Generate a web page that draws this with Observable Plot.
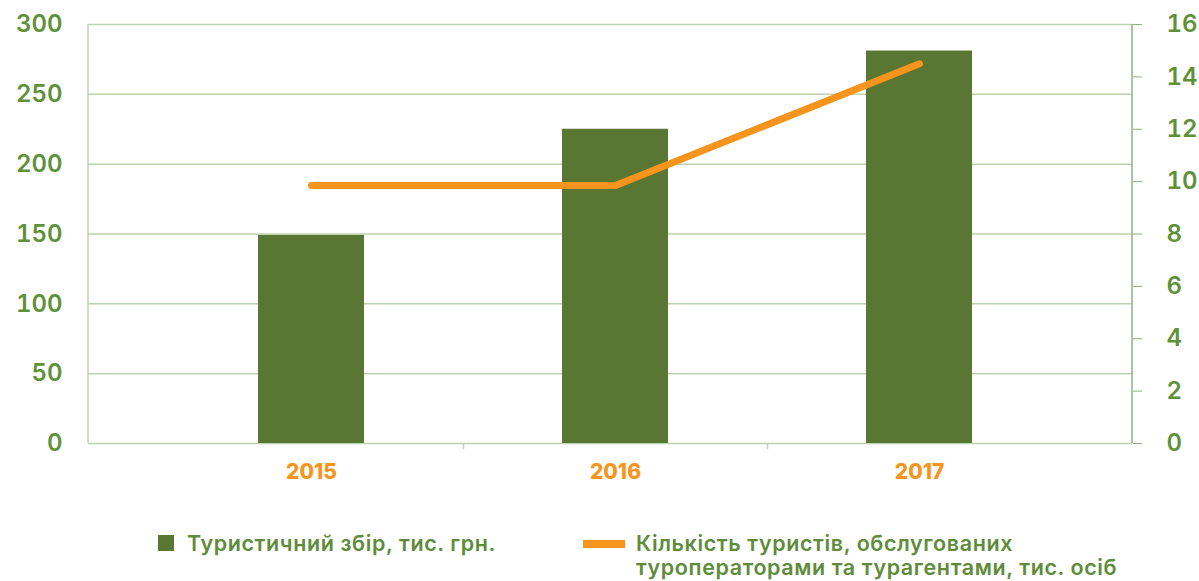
<!DOCTYPE html>
<html>
<head>
<meta charset="utf-8">
<script src="https://cdn.jsdelivr.net/npm/d3@7"></script>
<script src="https://cdn.jsdelivr.net/npm/@observablehq/plot@0.6"></script>
<style>
  html, body { margin: 0; padding: 0; background: #ffffff; }
  #wrap { position: relative; width: 1199px; height: 581px; overflow: hidden; font-family: Inter, sans-serif; }
  #chart svg { display: block; }
  .leg { position: absolute; color: #5e8c3a; font-weight: 600; font-size: 21.5px; line-height: 24px; white-space: nowrap; letter-spacing: 0.6px; }
  .sw { position: absolute; }
</style>
</head>
<body>
<div id="wrap">
  <div id="chart"></div>
  <div class="sw" style="left:158px; top:535px; width:16px; height:16px; background:#5a7633;"></div>
  <div class="leg" id="l1" style="left:187px; top:531px;">Туристичний збір, тис. грн.</div>
  <div class="sw" style="left:583px; top:540px; width:42px; height:8px; background:#f7941d;"></div>
  <div class="leg" id="l2" style="left:636px; top:531px;">Кількість туристів, обслугованих<br>туроператорами та турагентами, тис. осіб</div>
</div>
<script>
const years = ["2015", "2016", "2017"];
const touristFee = [149, 225, 281];          // Туристичний збір, тис. грн.
const touristsServed = [9.85, 9.85, 14.5];   // Кількість туристів, тис. осіб
const leftTicks = [0, 50, 100, 150, 200, 250, 300];
const rightTicks = [0, 2, 4, 6, 8, 10, 12, 14, 16];
const leftMax = 300;
const rightMax = 16;

const green = "#5a7633";
const labelGreen = "#5e9138";
const orange = "#f7941d";
const gridColor = "#bdd2ae";
const axisColor = "#8fb07a";

const k = leftMax / rightMax;
const data = years.map((y, i) => ({year: y, fee: touristFee[i], tourists: touristsServed[i]}));

function sideLines(index, scales, values, dimensions) {
  const {width, height, marginLeft, marginRight, marginTop, marginBottom} = dimensions;
  const g = d3.create("svg:g");
  g.append("line")
    .attr("x1", marginLeft).attr("x2", marginLeft)
    .attr("y1", marginTop).attr("y2", height - marginBottom)
    .attr("stroke", gridColor).attr("stroke-width", 1.5);
  g.append("line")
    .attr("x1", width - marginRight).attr("x2", width - marginRight)
    .attr("y1", marginTop).attr("y2", height - marginBottom)
    .attr("stroke", axisColor).attr("stroke-width", 1.5);
  return g.node();
}

const plot = Plot.plot({
  width: 1199,
  height: 500,
  marginTop: 24,
  marginLeft: 88,
  marginRight: 67,
  marginBottom: 57,
  style: {fontFamily: "Inter, sans-serif", background: "transparent", overflow: "visible"},
  x: {domain: years, paddingInner: 0.65, paddingOuter: 0.325, insetLeft: 71, insetRight: 61, label: null},
  y: {domain: [0, leftMax], label: null},
  marks: [
    Plot.gridY(leftTicks, {stroke: gridColor, strokeOpacity: 1, strokeWidth: 1.5}),
    sideLines,
    Plot.barY(data, {x: "year", y: "fee", fill: green}),
    Plot.line(data, {x: "year", y: d => d.tourists * k, stroke: orange, strokeWidth: 7, strokeLinecap: "round", strokeLinejoin: "round"}),
    Plot.axisY(leftTicks, {anchor: "left", tickSize: 0, tickPadding: 26, fill: labelGreen, fontSize: 24, fontWeight: 600, label: null}),
    Plot.axisY(rightTicks.map(v => v * k), {anchor: "right", tickSize: 9, tickPadding: 25, stroke: axisColor, fill: labelGreen, fontSize: 24, fontWeight: 600, tickFormat: v => String(Math.round(v / k)), label: null}),
    Plot.axisX(years, {tickSize: 0, tickPadding: 21, fill: orange, fontSize: 21, fontWeight: 800, letterSpacing: 0.8, label: null}),
    Plot.ruleX(years.slice(0, 2), {x: d => d, dx: 152, y1: 0, y2: -4.5, stroke: "#cccccc", strokeWidth: 1.5})
  ]
});
document.getElementById("chart").appendChild(plot);
</script>
</body>
</html>
